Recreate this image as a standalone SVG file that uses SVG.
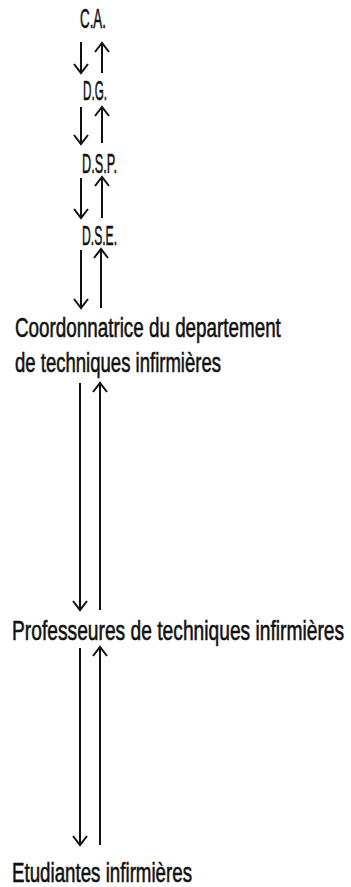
<svg xmlns="http://www.w3.org/2000/svg" width="351" height="887" viewBox="0 0 351 887">
<style>
text{font-family:"Liberation Sans","DejaVu Sans",sans-serif;fill:#111;stroke:#111;stroke-width:0.6;}
.lbl{font-size:28px;}
.conn line{stroke:#111;stroke-width:2;fill:none;}
</style>
<defs>
<marker id="ah" markerUnits="userSpaceOnUse" markerWidth="20" markerHeight="20" viewBox="-10 -10 20 20" refX="0" refY="0" orient="auto">
<path d="M-9,-7 L0,0 L-9,7" fill="none" stroke="#111" stroke-width="2"/>
</marker>
</defs>
<rect width="351" height="887" fill="#fff"/>
<g id="ca"><text class="lbl" transform="translate(80,28) scale(0.65,1)" textLength="40" lengthAdjust="spacingAndGlyphs">C.A.</text></g>
<g id="dg"><text class="lbl" transform="translate(83,100) scale(0.65,1)" font-size="25" textLength="37" lengthAdjust="spacingAndGlyphs">D.G.</text></g>
<g id="dsp"><text class="lbl" transform="translate(82,173) scale(0.65,1)" textLength="54" lengthAdjust="spacingAndGlyphs">D.S.P.</text></g>
<g id="dse"><text class="lbl" transform="translate(82,245) scale(0.65,1)" textLength="54" lengthAdjust="spacingAndGlyphs">D.S.E.</text></g>
<g id="coord">
<text class="lbl" transform="translate(15,337) scale(0.65,1)" textLength="409" lengthAdjust="spacingAndGlyphs">Coordonnatrice du departement</text>
<text class="lbl" transform="translate(15,372) scale(0.65,1)" textLength="317" lengthAdjust="spacingAndGlyphs">de techniques infirmières</text>
</g>
<g id="prof"><text class="lbl" transform="translate(12,640) scale(0.65,1)" textLength="511" lengthAdjust="spacingAndGlyphs">Professeures de techniques infirmières</text></g>
<g id="etud"><text class="lbl" transform="translate(12,882) scale(0.65,1)" textLength="277" lengthAdjust="spacingAndGlyphs">Etudiantes infirmières</text></g>
<g class="conn" id="connectors">
<line x1="81" y1="42" x2="81" y2="73" marker-end="url(#ah)"/>
<line x1="102" y1="73" x2="102" y2="43" marker-end="url(#ah)"/>
<line x1="81" y1="107" x2="81" y2="144" marker-end="url(#ah)"/>
<line x1="102" y1="143" x2="102" y2="107" marker-end="url(#ah)"/>
<line x1="81" y1="178" x2="81" y2="218" marker-end="url(#ah)"/>
<line x1="102" y1="218" x2="102" y2="177" marker-end="url(#ah)"/>
<line x1="81" y1="250" x2="81" y2="308" marker-end="url(#ah)"/>
<line x1="101" y1="308" x2="101" y2="249" marker-end="url(#ah)"/>
<line x1="80" y1="383" x2="80" y2="610" marker-end="url(#ah)"/>
<line x1="100" y1="610" x2="100" y2="383" marker-end="url(#ah)"/>
<line x1="80" y1="648" x2="80" y2="845" marker-end="url(#ah)"/>
<line x1="100" y1="845" x2="100" y2="647" marker-end="url(#ah)"/>
</g>
</svg>
